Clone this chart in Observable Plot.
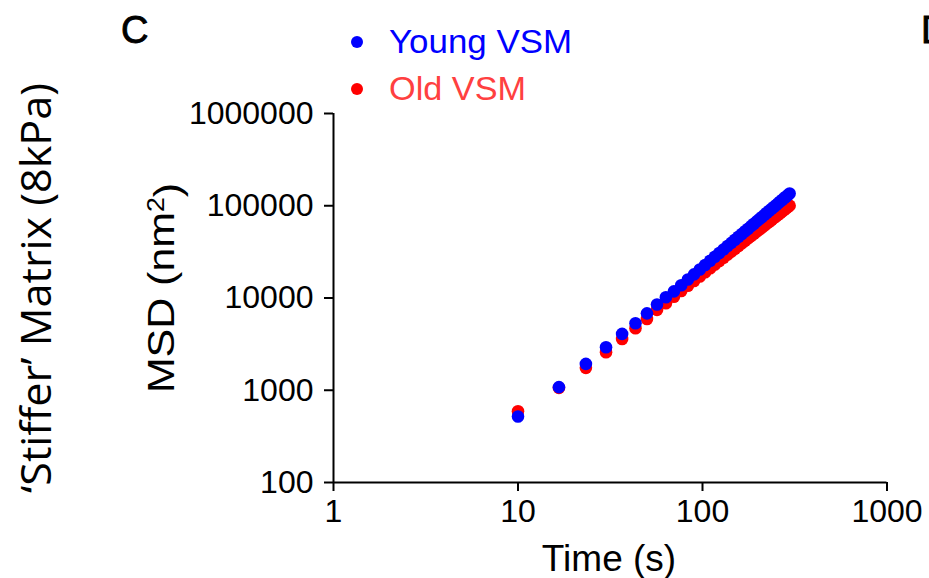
<!DOCTYPE html>
<html>
<head>
<meta charset="utf-8">
<script src="https://cdn.jsdelivr.net/npm/d3@7"></script>
<script src="https://cdn.jsdelivr.net/npm/@observablehq/plot@0.6"></script>
<style>
  html, body { margin: 0; padding: 0; background: #fff; }
  #chart { width: 929px; height: 578px; overflow: hidden; }
</style>
</head>
<body>
<div id="chart"></div>
<script>
const time = [10, 16.67, 23.33, 30, 36.67, 43.33, 50, 56.67, 63.33, 70, 76.67, 83.33, 90, 96.67, 103.33, 110, 116.67, 123.33, 130, 136.67, 143.33, 150, 156.67, 163.33, 170, 176.67, 183.33, 190, 196.67, 203.33, 210, 216.67, 223.33, 230, 236.67, 243.33, 250, 256.67, 263.33, 270, 276.67, 283.33, 290, 296.67];
const youngMSD = [519, 1080, 1930, 2920, 4080, 5320, 6820, 8490, 10200, 11800, 13770, 15850, 18050, 20370, 22800, 25330, 27990, 30730, 33590, 36570, 39630, 42800, 46060, 49420, 52860, 56420, 60070, 63830, 67660, 71550, 75560, 79670, 83830, 88110, 92470, 96940, 101440, 106100, 110760, 115560, 120450, 125370, 130400, 136000];
const oldMSD = [592, 1060, 1750, 2580, 3600, 4700, 5930, 7430, 8770, 10300, 11890, 13560, 15300, 17130, 19020, 20990, 23030, 25140, 27320, 29560, 31860, 34220, 36660, 39130, 41680, 44280, 46950, 49680, 52470, 55280, 58150, 61090, 64070, 67120, 70200, 73360, 76540, 79800, 83060, 86420, 89810, 93230, 96690, 100200];
const seriesNames = ["Young VSM", "Old VSM"];
const xTicks = [1, 10, 100, 1000];
const yTicks = [100, 1000, 10000, 100000, 1000000];

const youngData = time.map((t, i) => ({t, v: youngMSD[i]}));
const oldData = time.map((t, i) => ({t, v: oldMSD[i]}));

const fontFam = "'Liberation Sans', Arial, Helvetica, sans-serif";

const chart = Plot.plot({
  width: 929,
  height: 578,
  marginLeft: 333,
  marginRight: 42.5,
  marginTop: 113,
  marginBottom: 96,
  style: {fontFamily: fontFam, background: "#fff", color: "#000", overflow: "visible"},
  x: {type: "log", domain: [1, 1000]},
  y: {type: "log", domain: [100, 1000000]},
  marks: [
    Plot.axisX({ticks: xTicks, tickFormat: d => String(d), tickSize: 9, tickPadding: 8, fontSize: 32, strokeWidth: 2, label: null}),
    Plot.axisY({ticks: yTicks, tickFormat: d => String(d), tickSize: 9, tickPadding: 11, fontSize: 32, strokeWidth: 2, label: null}),
    Plot.ruleY([100], {stroke: "#000", strokeWidth: 2}),
    Plot.ruleX([1], {stroke: "#000", strokeWidth: 2}),
    Plot.dot(oldData, {x: "t", y: "v", r: 6.3, fill: "#ff0000", stroke: "none"}),
    Plot.dot(youngData, {x: "t", y: "v", r: 6.3, fill: "#0000ff", stroke: "none"})
  ]
});

document.getElementById("chart").appendChild(chart);

const svg = d3.select(chart);

// Panel letters (the second one is cut by the right edge, as in the source figure)
[["C", 121], ["D", 921]].forEach(([letter, x]) => {
  svg.append("text").attr("x", x).attr("y", 43).attr("text-anchor", "start")
    .attr("font-family", fontFam).attr("font-size", 38).attr("fill", "#000")
    .attr("stroke", "#000").attr("stroke-width", 0.9).text(letter);
});

// Legend
const legendColors = ["#0000ff", "#ff0000"];
const legendText = ["#0000ff", "#ff4040"];
const legendY = [42, 89];
const legendLen = [183, 137];
seriesNames.forEach((name, i) => {
  svg.append("circle").attr("cx", 357).attr("cy", legendY[i]).attr("r", 6).attr("fill", legendColors[i]);
  svg.append("text").attr("x", 389).attr("y", legendY[i] + 11).attr("text-anchor", "start")
    .attr("font-family", fontFam).attr("font-size", 33).attr("fill", legendText[i])
    .attr("textLength", legendLen[i]).attr("lengthAdjust", "spacingAndGlyphs").text(name);
});

// X axis title
svg.append("text").attr("x", 609).attr("y", 571).attr("text-anchor", "middle")
  .attr("font-family", fontFam).attr("font-size", 37).attr("fill", "#000").text("Time (s)");

// Y axis title with superscript
const yt = svg.append("text").attr("transform", "translate(174,288) rotate(-90) scale(1.16,1)")
  .attr("text-anchor", "middle").attr("font-family", fontFam).attr("font-size", 37).attr("fill", "#000");
yt.append("tspan").text("MSD (nm");
yt.append("tspan").attr("dy", "-0.45em").attr("font-size", 23).text("2");
yt.append("tspan").attr("dy", "0.45em").text(")");

// Row label
svg.append("text").attr("transform", "translate(51,288) rotate(-90)")
  .attr("text-anchor", "middle").attr("font-family", "'Open Sans', 'Noto Sans', sans-serif")
  .attr("font-size", 42).attr("fill", "#000")
  .attr("textLength", 410).attr("lengthAdjust", "spacingAndGlyphs")
  .text("\u2018Stiffer\u2019 Matrix (8kPa)");
</script>
</body>
</html>
